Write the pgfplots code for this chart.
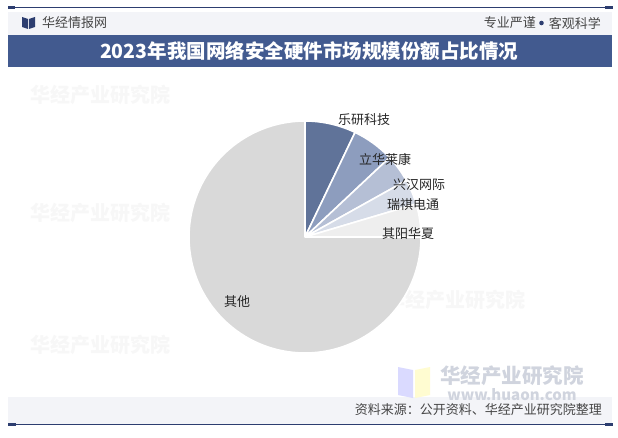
\documentclass[border=0pt]{standalone}
\usepackage{pgfplots}
\usepackage{pgfplotstable}
\pgfplotsset{compat=1.18}
\usepackage{fontspec}
\setmainfont{Noto Sans CJK SC}
\definecolor{navy}{RGB}{45,62,112}
\definecolor{titlebar}{RGB}{66,90,143}
\definecolor{band}{RGB}{243,244,248}
\definecolor{hdrtext}{RGB}{70,70,70}
\definecolor{pie0}{RGB}{96,115,153}
\definecolor{pie1}{RGB}{141,157,190}
\definecolor{pie2}{RGB}{181,191,213}
\definecolor{pie3}{RGB}{214,220,232}
\definecolor{pie4}{RGB}{238,238,238}
\definecolor{pie5}{RGB}{217,217,217}
\definecolor{wm}{RGB}{208,212,222}
\pgfplotstableread{
share
7.1
5.9
3.9
3.5
4.6
75.0
}\piedata
\begin{document}
\begin{tikzpicture}
\begin{scope}[x=1pt,y=-1pt,yshift=437pt]
  \fill[white] (0,0) rectangle (618,437);
  % faint watermarks
  \foreach \px/\py in {100/95,100/213,100/345,455/300}{
    \node[text=black!3,font=\fontsize{20}{22}\selectfont\bfseries] at (\px,\py) {华经产业研究院};
  }
  % header band
  \fill[band] (8,12) rectangle (612,35);
  \fill[titlebar] (8,35) rectangle (612,67);
  \draw[navy,line width=1pt] (8,7.5) -- (613,7.5);
  \fill[navy] (8,6) rectangle (15,9.2);
  \fill[navy] (605,6) rectangle (613,9.2);
  % icon
  \fill[navy] (22,17) -- (28,19) -- (28,29) -- (22,27) -- cycle;
  \fill[navy] (29,19) -- (35,17) -- (35,27) -- (29,29) -- cycle;
  \node[anchor=west,text=hdrtext,font=\fontsize{13}{15}\selectfont,inner sep=0pt] at (42,23) {华经情报网};
  \node[anchor=east,text=hdrtext,font=\fontsize{13}{15}\selectfont,inner sep=0pt] at (601,23) {客观科学};
  \fill[navy] (541.5,23) circle (2.3);
  \node[anchor=east,text=hdrtext,font=\fontsize{13}{15}\selectfont,inner sep=0pt] at (536,23) {专业严谨};
  \node[text=white,font=\fontsize{19.5}{21}\selectfont\bfseries,inner sep=0pt] at (309,51) {2023年我国网络安全硬件市场规模份额占比情况};
  % source band
  \fill[band] (8,397) rectangle (612,424);
  % watermark logo
  \fill[blue!18!white,opacity=0.8] (398,367) -- (413,370) -- (413,398) -- (398,395) -- cycle;
  \fill[yellow!20!white,opacity=0.9] (415,370) -- (430,367) -- (430,395) -- (415,398) -- cycle;
  \node[text=wm,font=\fontsize{20.5}{22}\selectfont\bfseries,inner sep=0pt] at (512,376) {华经产业研究院};
  \node[text=wm,font=\fontsize{15}{16}\selectfont\bfseries,inner sep=0pt] at (512,395) {www.huaon.com};
  \node[anchor=east,text=hdrtext,font=\fontsize{13}{15}\selectfont,inner sep=0pt] at (602,410) {资料来源：公开资料、华经产业研究院整理};
  \draw[navy,line width=1pt] (8,424.5) -- (613,424.5);
  \fill[navy] (8,423) rectangle (16,426.2);
  \fill[navy] (605,423) rectangle (613,426.2);
\end{scope}
\begin{axis}[
  at={(305pt,200pt)}, anchor=center,
  scale only axis, width=232pt, height=232pt,
  hide axis, axis equal image,
  xmin=-1, xmax=1, ymin=-1, ymax=1,
  clip=false]
\def\angA{90}
\pgfplotsinvokeforeach{0,...,5}{%
  \pgfplotstablegetelem{#1}{share}\of\piedata
  \pgfmathsetmacro\angB{\angA-3.6*\pgfplotsretval}%
  \edef\temp{\noexpand\fill[pie#1, draw=white, line width=1.6pt, line join=round] (axis cs:0,0) -- (axis cs:{cos(\angA)},{sin(\angA)}) arc[start angle=\angA, end angle=\angB, radius=1] -- cycle;}%
  \temp
  \global\let\angA\angB
}
\begin{scope}[font=\fontsize{13}{15}\selectfont, text=black!85]
\node at (axis cs:0.509,1.009) {乐研科技};
\node at (axis cs:0.69,0.664) {立华莱康};
\node at (axis cs:0.983,0.448) {兴汉网际};
\node at (axis cs:0.931,0.276) {瑞祺电通};
\node at (axis cs:0.888,0.034) {其阳华夏};
\node at (axis cs:-0.586,-0.56) {其他};
\end{scope}
\end{axis}
\end{tikzpicture}
\end{document}
